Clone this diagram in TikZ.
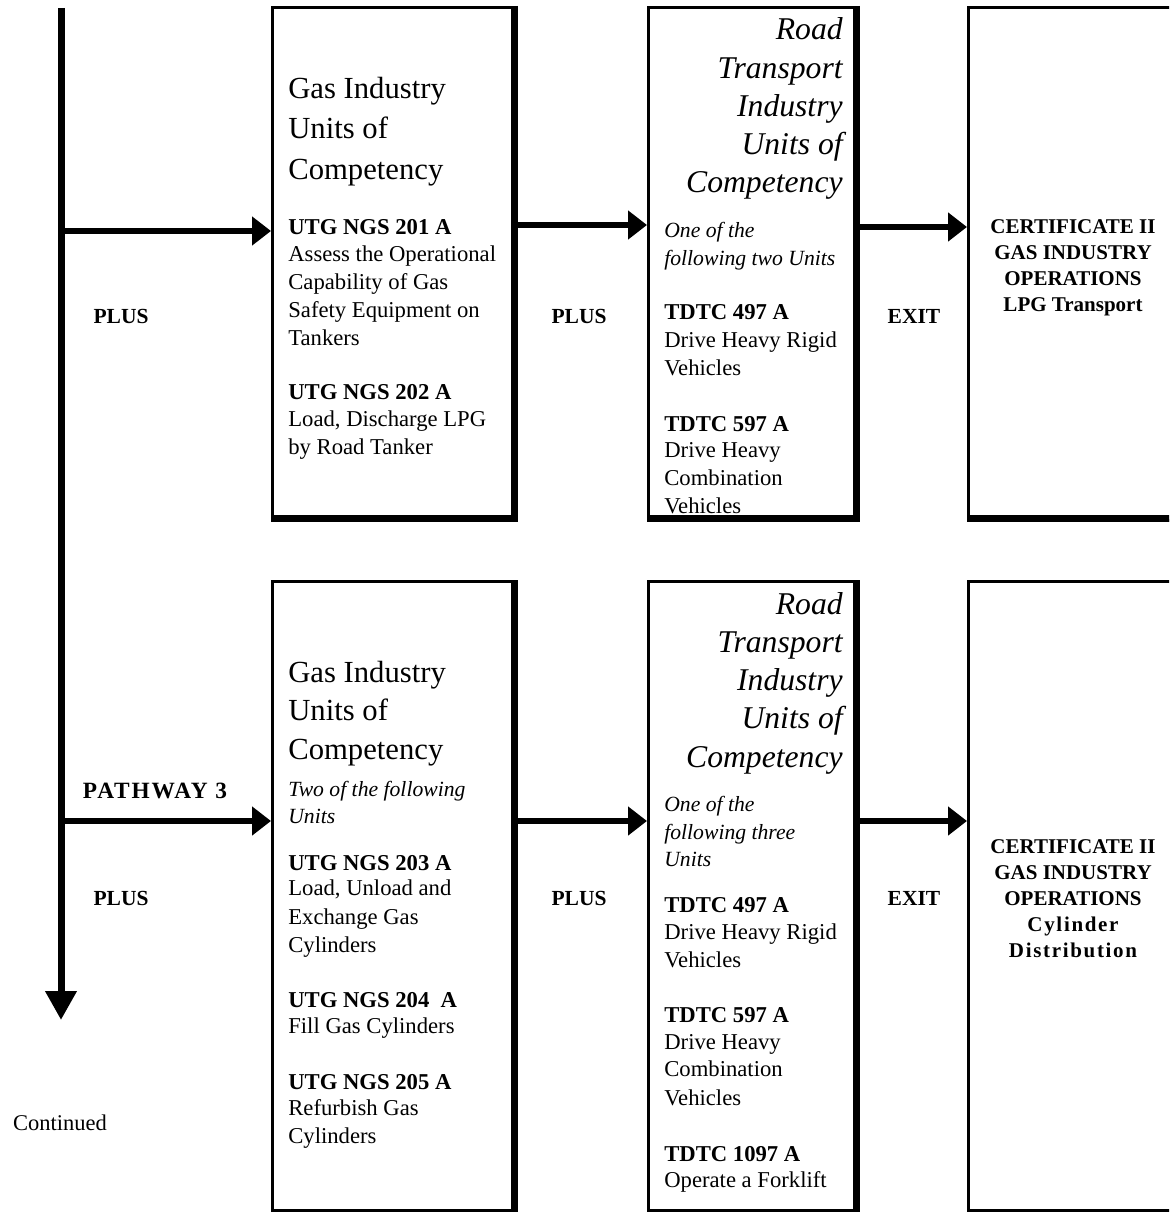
\documentclass[tikz,border=0pt]{standalone}
\usepackage{fontspec}
\setmainfont{Liberation Serif}
\newfontfamily\spacedserif[LetterSpace=8]{Liberation Serif}
\usetikzlibrary{arrows.meta}

\tikzset{
  box/.style={draw, line width=1.8pt, anchor=north west, inner sep=0pt},
  rim/.style={line width=4.2pt},
  flow/.style={line width=3.6pt, -{Triangle[length=11.4pt,width=16.8pt]}},
  hd/.style={font=\fontsize{18.4}{22}\selectfont, anchor=base west, inner sep=0pt},
  hdit/.style={font=\fontsize{19}{22}\selectfont\itshape, anchor=base east, inner sep=0pt},
  bd/.style={font=\fontsize{13.6}{16}\selectfont, anchor=base west, inner sep=0pt},
  bdit/.style={font=\fontsize{13}{16}\selectfont\itshape, anchor=base west, inner sep=0pt},
  cert/.style={font=\fontsize{12.6}{15}\selectfont\bfseries, anchor=base, inner sep=0pt},
  lbl/.style={font=\fontsize{12.9}{15}\selectfont\bfseries, inner sep=0pt}
}

\begin{document}
\begin{tikzpicture}[x=0.6pt, y=-0.6pt]

\useasboundingbox (0,0) rectangle (1169,1212);
\clip (0,0) rectangle (1169,1212);

% the six boxes, thin left/top, heavy right/bottom
\foreach \n/\x/\y/\w/\h in {gasTop/271/6/146.4/307.8, roadTop/647/6/126/307.8, certTop/967/6/126/307.8,
                             gasBot/271/580/146.4/379.8, roadBot/647/580/126/379.8, certBot/967/580/126/379.8} {
  \node[box, minimum width=\w pt, minimum height=\h pt] (\n) at (\x,\y) {};
  \draw[rim] ([shift={(-3.5,0)}]\n.north east) -- ([shift={(-3.5,-3.5)}]\n.south east)
             -- ([shift={(0,-3.5)}]\n.south west);
}

% main line down the left
\coordinate (spineTop) at (61,8);
\coordinate (spineEnd) at (61,1020);
\draw[line width=4.2pt, -{Triangle[length=17.4pt,width=18pt]}] (spineTop) -- (spineEnd);

\coordinate (pathA) at (61,231);
\coordinate (rowA) at (0,225);
\coordinate (rowB) at (0,227);
\coordinate (pathB) at (61,821);

\draw[flow] (pathA) -- (gasTop.west |- pathA);
\draw[flow] (gasTop.east |- rowA) -- (roadTop.west |- rowA);
\draw[flow] (roadTop.east |- rowB) -- (certTop.west |- rowB);

\draw[flow] (pathB) -- (gasBot.west |- pathB);
\draw[flow] (gasBot.east |- pathB) -- (roadBot.west |- pathB);
\draw[flow] (roadBot.east |- pathB) -- (certBot.west |- pathB);

% labels between the boxes
\node[lbl] (plusA) at (121,316) {PLUS};
\node[lbl] (plusB) at (579,316) {PLUS};
\node[lbl] (exitA) at (914,316) {EXIT};
\node[lbl, font=\fontsize{14}{16}\selectfont\spacedserif\bfseries] (pathway) at (155,791) {PATHWAY 3};
\node[lbl] (plusC) at (121,898) {PLUS};
\node[lbl] (plusD) at (579,898) {PLUS};
\node[lbl] (exitB) at (914,898) {EXIT};
\node[font=\fontsize{13.5}{16}\selectfont, inner sep=0pt] (cont) at (60,1123) {Continued};

% top row
\foreach \t [count=\i from 0] in {Gas Industry, Units of, Competency}
  \node[hd] (gasTopH\i) at (288,{99+40*\i}) {\t};
\foreach \y/\t in {234/\textbf{UTG NGS 201 A}, 261/Assess the Operational, 289/Capability of Gas,
                   317/Safety Equipment on, 345/Tankers, 399/\textbf{UTG NGS 202 A},
                   426/{Load, Discharge LPG}, 454/by Road Tanker}
  \node[bd] (gasTop\y) at (288,\y) {\t};

\foreach \t [count=\i from 0] in {Road, Transport, Industry, Units of, Competency}
  \node[hdit] (roadTopH\i) at (843,{40+38.2*\i}) {\t};
\foreach \y/\t in {237/One of the, 265/following two Units}
  \node[bdit] (roadTop\y) at (664,\y) {\t};
\foreach \y/\t in {319/\textbf{TDTC 497 A}, 347/Drive Heavy Rigid, 375/Vehicles,
                   431/\textbf{TDTC 597 A}, 457/Drive Heavy, 485/Combination, 513/Vehicles}
  \node[bd] (roadTop\y) at (664,\y) {\t};

\foreach \y/\t in {233/CERTIFICATE II, 259/GAS INDUSTRY, 285/OPERATIONS, 311/LPG Transport}
  \node[cert] (certTop\y) at (1073,\y) {\t};

% bottom row
\foreach \t [count=\i from 0] in {Gas Industry, Units of, Competency}
  \node[hd] (gasBotH\i) at (288,{682+38.5*\i}) {\t};
\foreach \y/\t in {796/Two of the following, 823/Units}
  \node[bdit] (gasBot\y) at (288,\y) {\t};
\foreach \y/\t in {870/\textbf{UTG NGS 203 A}, 895/Load{,} Unload and, 924/Exchange Gas, 952/Cylinders,
                   1007/\textbf{UTG NGS 204~~A}, 1033/Fill Gas Cylinders,
                   1089/\textbf{UTG NGS 205 A}, 1115/Refurbish Gas, 1143/Cylinders}
  \node[bd] (gasBot\y) at (288,\y) {\t};

\foreach \t [count=\i from 0] in {Road, Transport, Industry, Units of, Competency}
  \node[hdit] (roadBotH\i) at (843,{614+38.25*\i}) {\t};
\foreach \y/\t in {811/One of the, 839/following three, 866/Units}
  \node[bdit] (roadBot\y) at (664,\y) {\t};
\foreach \y/\t in {912/\textbf{TDTC 497 A}, 939/Drive Heavy Rigid, 967/Vehicles,
                   1022/\textbf{TDTC 597 A}, 1049/Drive Heavy, 1076/Combination, 1105/Vehicles,
                   1161/\textbf{TDTC 1097 A}, 1187/Operate a Forklift}
  \node[bd] (roadBot\y) at (664,\y) {\t};

\foreach \y/\t in {853/CERTIFICATE II, 879/GAS INDUSTRY, 905/OPERATIONS}
  \node[cert] (certBot\y) at (1073,\y) {\t};
\node[cert] (certBot931) at (1073,931) {\spacedserif\bfseries Cylinder};
\node[cert] (certBot957) at (1073,957) {\spacedserif\bfseries Distribution};

\end{tikzpicture}
\end{document}
